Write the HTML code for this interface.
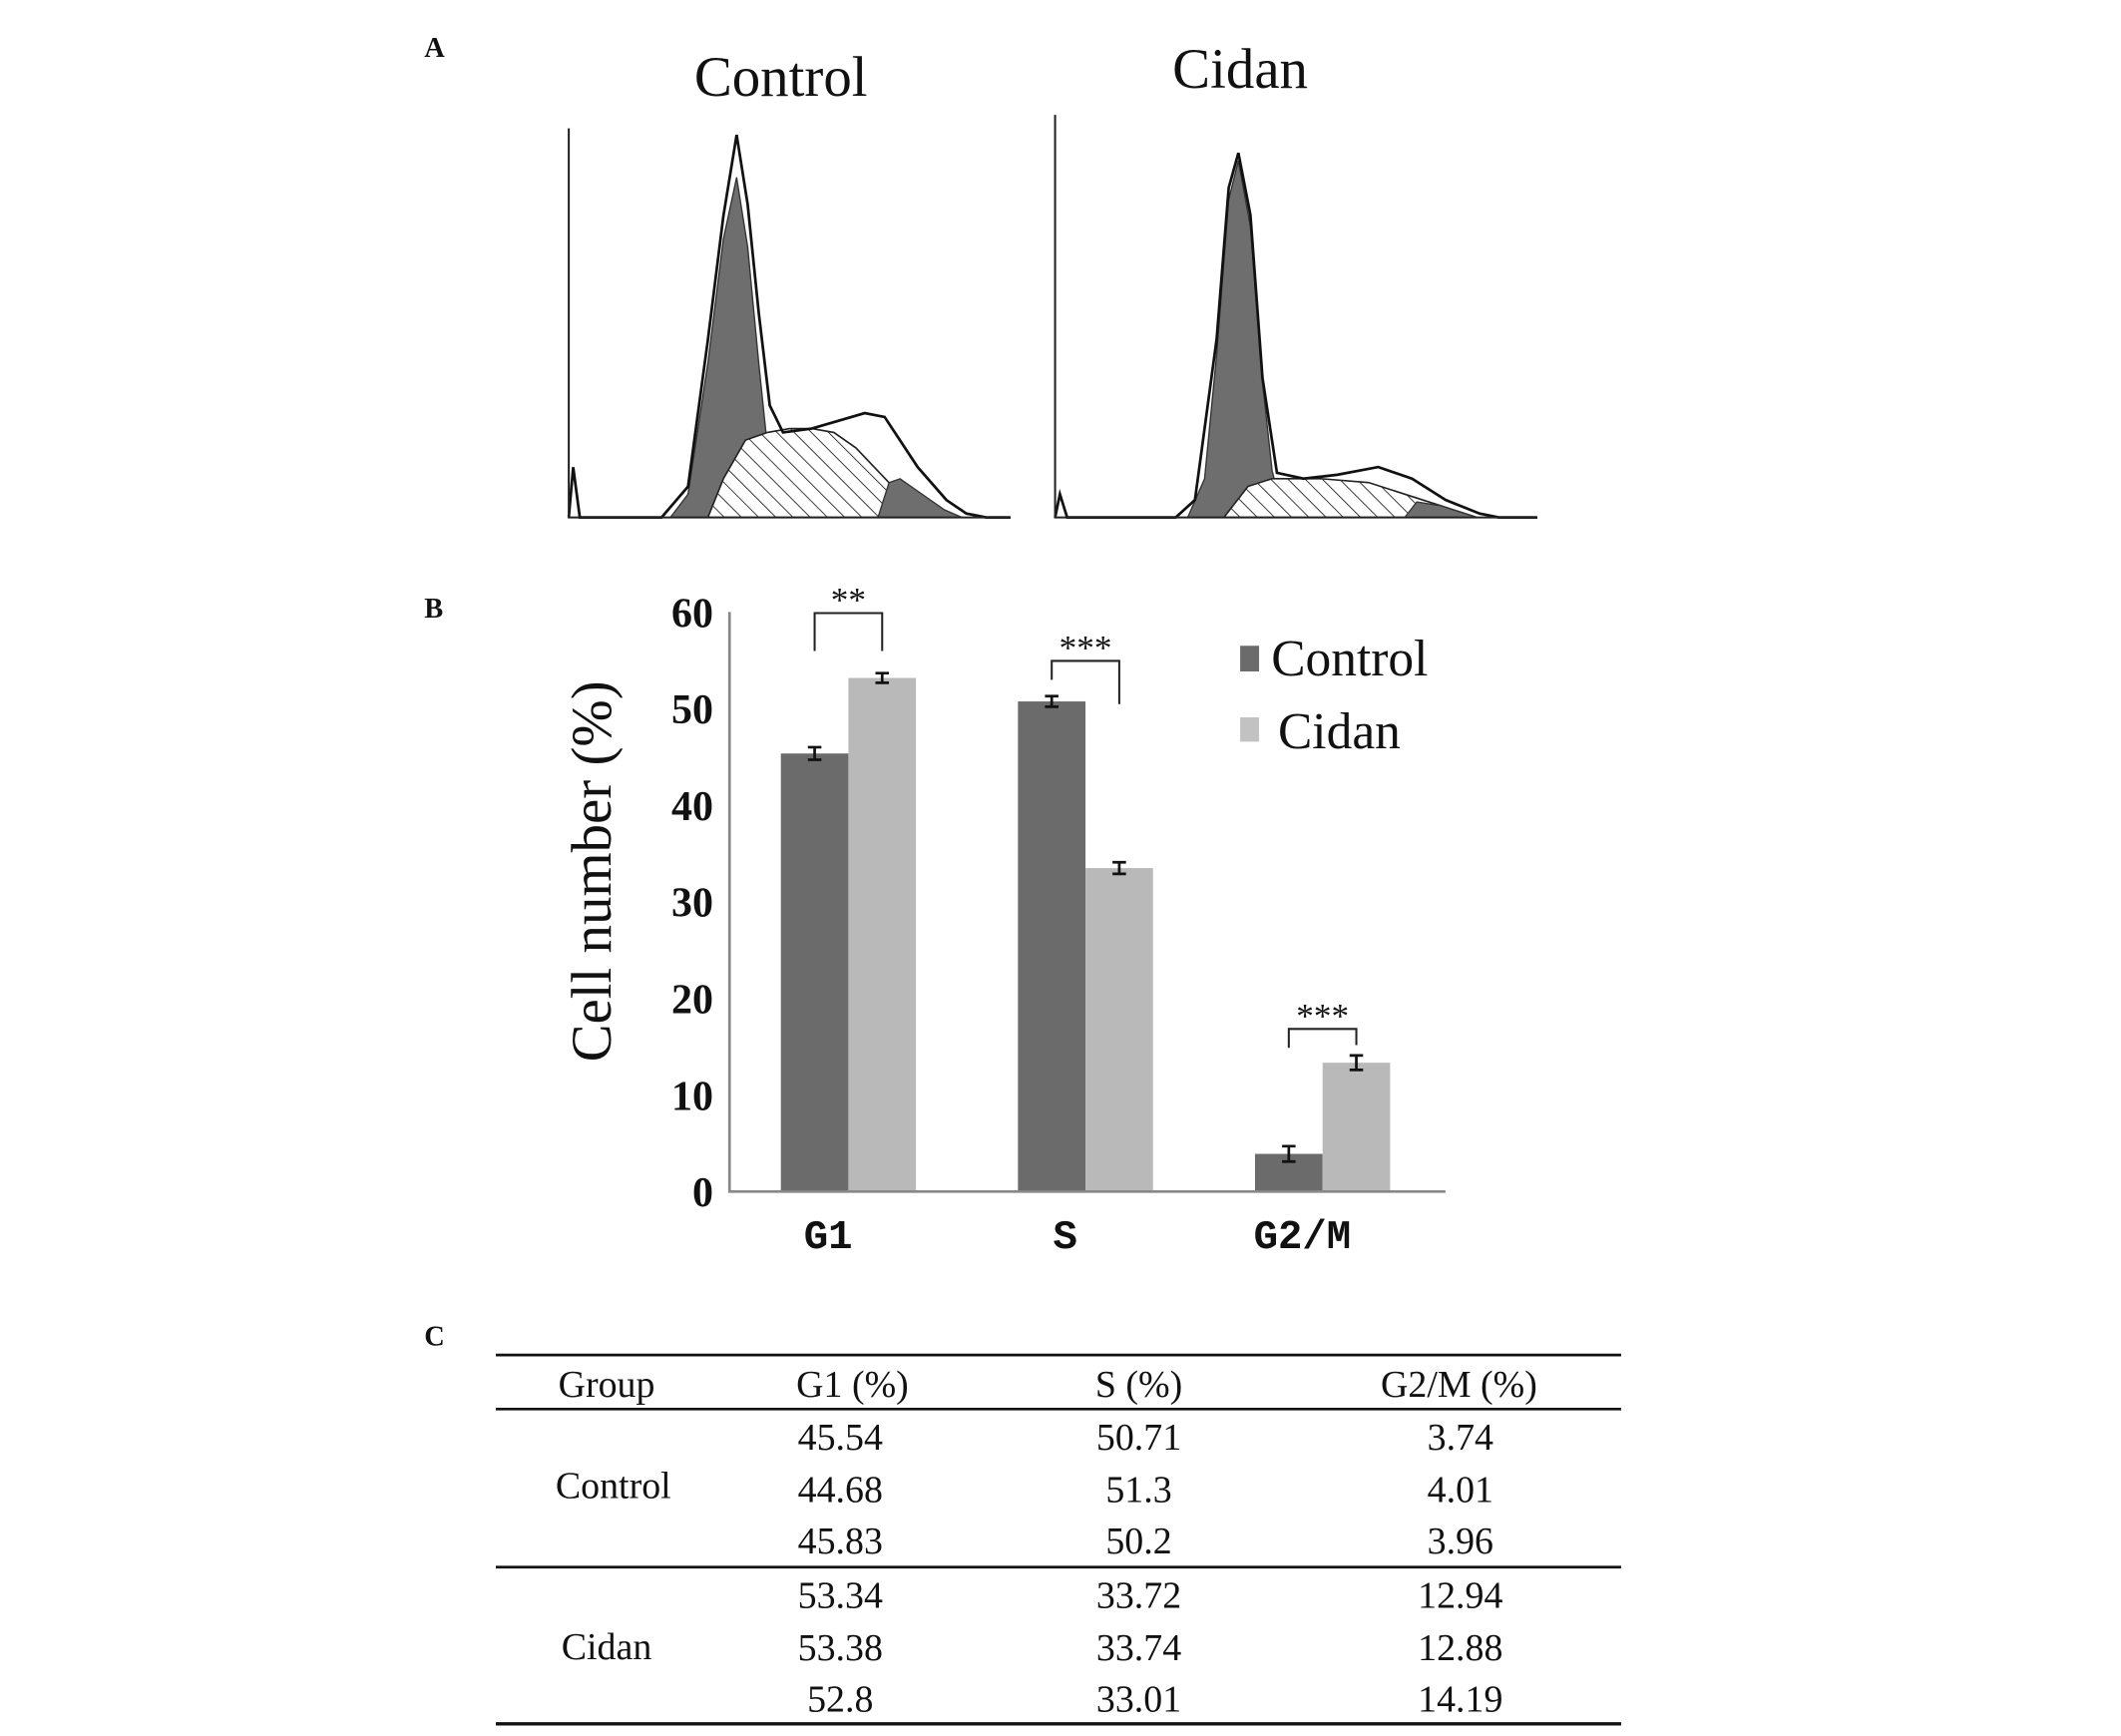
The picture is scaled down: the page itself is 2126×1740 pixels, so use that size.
<!DOCTYPE html>
<html><head><meta charset="utf-8">
<style>
html,body{margin:0;padding:0;background:#fff;}
svg{display:block;}
text{font-family:"Liberation Serif",serif;fill:#111;}
</style></head>
<body>
<svg id="fig" width="2126" height="1740" viewBox="0 0 1570 1285" xmlns="http://www.w3.org/2000/svg">
<defs>
<pattern id="hatch" patternUnits="userSpaceOnUse" width="9" height="9" patternTransform="rotate(-45)">
<rect width="9" height="9" fill="#fff"/><line x1="0" y1="0" x2="0" y2="9" stroke="#222" stroke-width="1.3"/>
</pattern>
</defs>
<text x="314" y="42" font-size="21" font-weight="bold">A</text>
<text x="314" y="457" font-size="21" font-weight="bold">B</text>
<text x="314" y="996" font-size="21" font-weight="bold">C</text>
<text x="578" y="71" font-size="42" text-anchor="middle">Control</text>
<text x="918" y="65" font-size="42" text-anchor="middle">Cidan</text>
<g id="histA"></g>
<g id="bars"></g>
<g id="table"></g>
</svg>
<script>
const NS="http://www.w3.org/2000/svg";
function mk(parent,tag,attrs,txt){const e=document.createElementNS(NS,tag);for(const k in attrs)e.setAttribute(k,attrs[k]);if(txt!==undefined)e.textContent=txt;parent.appendChild(e);return e;}

// ---------- Panel A histogram data (channel, count) ----------
const ctrlOutlineCh=[0,2,5,42,54,63,70,76,81,86,91,97,110,122,134,143,158,171,180,189,200];
const ctrlOutlineCt=[0,13,0,0,8,46,78,99,81,53,29,22,23,25,27,26,13,4.5,1,0,0];
const ctrlG1Ch=[46,54,63,70,76,81,86,90,95];
const ctrlG1Ct=[0,6,40,72,88,70,40,18,0];
const ctrlSCh=[63,70,80,90,100,110,120,130,140,150,160,170];
const ctrlSCt=[0,10,20,22,23,23,22,18,12,6,2,0];
const ctrlG2Ch=[140,145,150,160,170,178];
const ctrlG2Ct=[0,9,10,6,2,0];

const cidOutlineCh=[0,2,5,50,58,67,72,76,81,86,92,103,117,134,148,162,176,184,200];
const cidOutlineCt=[0,6,0,0,4.5,46,85,94,78,36,11.5,10,11,13,10,4.5,1,0,0];
const cidG1Ch=[55,62,67,72,76,81,86,90,95];
const cidG1Ct=[0,10,42,82,92,75,35,12,0];
const cidSCh=[70,80,90,110,130,145,160,175];
const cidSCt=[0,8,10,10,9,6,3,0];
const cidG2Ch=[145,150,160,170,175];
const cidG2Ct=[0,4,3,1,0];

function histogram(name,x0,x1,yTop,yBase,axTop,o,g1,s,g2){
  const g=mk(document.getElementById('histA'),'g',{});
  
  
  const sx=c=>x0+(x1-x0)*c/200, sy=v=>yBase-(yBase-yTop)*v/100;
  const area=(ch,ct)=>'M'+sx(ch[0])+','+yBase+' '+ch.map((c,i)=>'L'+sx(c)+','+sy(ct[i])).join(' ')+' L'+sx(ch[ch.length-1])+','+yBase+'Z';
  const line=(ch,ct)=>ch.map((c,i)=>(i?'L':'M')+sx(c)+','+sy(ct[i])).join(' ');
  let p=mk(g,'path',{d:area(g1[0],g1[1]),fill:'#6e6e6e',stroke:'#333','stroke-width':1});
  
  p=mk(g,'path',{d:area(s[0],s[1]),fill:'url(#hatch)',stroke:'#222','stroke-width':1.2});
  
  p=mk(g,'path',{d:area(g2[0],g2[1]),fill:'#6e6e6e',stroke:'#333','stroke-width':1});
  
  p=mk(g,'path',{d:line(o[0],o[1]),fill:'none',stroke:'#111','stroke-width':2});
  
  p=mk(g,'path',{d:`M${x0},${axTop} L${x0},${yBase} L${x1},${yBase}`,fill:'none',stroke:'#222','stroke-width':1.5});
  
}
histogram('control-histogram',421,748,97,383,95,[ctrlOutlineCh,ctrlOutlineCt],[ctrlG1Ch,ctrlG1Ct],[ctrlSCh,ctrlSCt],[ctrlG2Ch,ctrlG2Ct]);
histogram('cidan-histogram',781,1138,96,383,85,[cidOutlineCh,cidOutlineCt],[cidG1Ch,cidG1Ct],[cidSCh,cidSCt],[cidG2Ch,cidG2Ct]);

// ---------- Panel B bar chart ----------
const categories=['G1','S','G2/M'];
const controlMeans=[45.35,50.74,3.90];
const cidanMeans=[53.17,33.49,13.34];
const controlErr=[0.65,0.55,0.8];
const cidanErr=[0.5,0.6,0.75];
const yTicks=[0,10,20,30,40,50,60];
const sigLabels=['**','***','***'];

(function(){
  const B=document.getElementById('bars');
  const ax0=540, ax1=1070, yb=882, pxPerUnit=7.15;
  const y=v=>yb-v*pxPerUnit;
  const groupX=i=>628+i*175.5;
  const bw=50;
  yTicks.forEach(t=>{
    const tl=mk(B,'text',{x:528,y:y(t)+11,'font-size':31,'font-weight':'bold','text-anchor':'end'},t);
    
  });
  categories.forEach((c,i)=>{
    const cx=groupX(i);
    const r1=mk(B,'rect',{x:cx-bw,y:y(controlMeans[i]),width:bw,height:yb-y(controlMeans[i]),fill:'#6b6b6b'});
    
    const r2=mk(B,'rect',{x:cx,y:y(cidanMeans[i]),width:bw,height:yb-y(cidanMeans[i]),fill:'#b9b9b9'});
    
    [[cx-bw/2,controlMeans[i],controlErr[i]],[cx+bw/2,cidanMeans[i],cidanErr[i]]].forEach(([ex,m,e])=>{
      const eb=mk(B,'path',{d:`M${ex-5},${y(m+e)} H${ex+5} M${ex},${y(m+e)} V${y(m-e)} M${ex-5},${y(m-e)} H${ex+5}`,stroke:'#111','stroke-width':2,fill:'none'});
      
    });
    const lab=mk(B,'text',{x:cx-15,y:924,'font-size':30,'font-weight':'bold','text-anchor':'middle',style:'font-family:"Liberation Mono",monospace'},c);
    
    const top=Math.max(controlMeans[i],cidanMeans[i]);
    const by=y(top)-(i===0?48:i===1?30:25);
    const lx=cx-bw/2, rx=cx+bw/2;
    const br=mk(B,'path',{d:`M${lx},${by+(i===0?28:14)} V${by} H${rx} V${by+(i===1?32:i===0?28:12)}`,stroke:'#222','stroke-width':1.5,fill:'none'});
    
    const st=mk(B,'text',{x:cx,y:by-1,'font-size':26,'text-anchor':'middle'},sigLabels[i]);
    
  });
  const axes=mk(B,'path',{d:`M${ax0},${y(60)} V${yb} H${ax1}`,stroke:'#888','stroke-width':2,fill:'none'});
  
  const yt=mk(B,'text',{x:0,y:0,'font-size':42,'text-anchor':'middle',transform:'translate(452,645) rotate(-90)'},'Cell  number (%)');
  
  const l1=mk(B,'rect',{x:918,y:478,width:14,height:19,fill:'#6b6b6b'});
  
  const t1=mk(B,'text',{x:941,y:500,'font-size':38},'Control');
  
  const l2=mk(B,'rect',{x:918,y:531,width:14,height:18,fill:'#c2c2c2'});
  
  const t2=mk(B,'text',{x:946,y:554,'font-size':38},'Cidan');
  
})();

// ---------- Panel C table ----------
const tableHeaders=['Group','G1 (%)','S (%)','G2/M (%)'];
const tableG1=['45.54','44.68','45.83','53.34','53.38','52.8'];
const tableS=['50.71','51.3','50.2','33.72','33.74','33.01'];
const tableG2M=['3.74','4.01','3.96','12.94','12.88','14.19'];
(function(){
  const T=document.getElementById('table');
  [[1003,2],[1043,2],[1160,2],[1276,2.5]].forEach(([yy,w])=>{
    const l=mk(T,'line',{x1:367,x2:1200,y1:yy,y2:yy,stroke:'#111','stroke-width':w});
    
  });
  const hx=[449,631,843,1080];
  tableHeaders.forEach((h,i)=>{
    const t=mk(T,'text',{x:hx[i],y:1034,'font-size':28,'text-anchor':'middle'},h);
    
  });
  const rowY=[1073,1112,1150,1190,1229,1267];
  for(let r=0;r<6;r++){
    [[622,tableG1],[843,tableS],[1081,tableG2M]].forEach(([cx,arr])=>{
      const t=mk(T,'text',{x:cx,y:rowY[r],'font-size':28,'text-anchor':'middle'},arr[r]);
      
    });
  }
  const g1=mk(T,'text',{x:454,y:1109,'font-size':28,'text-anchor':'middle'},'Control');
  
  const g2=mk(T,'text',{x:449,y:1228,'font-size':28,'text-anchor':'middle'},'Cidan');
  
})();
</script>
</body></html>
